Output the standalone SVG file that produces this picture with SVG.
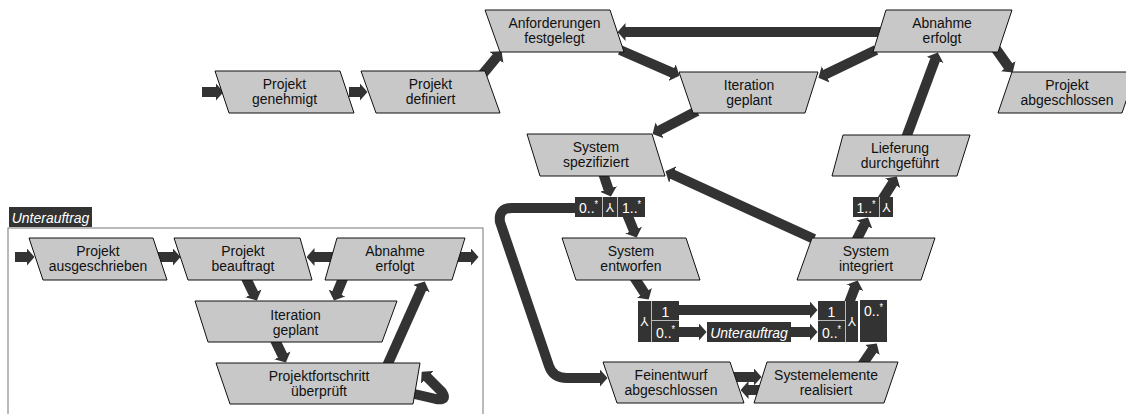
<svg xmlns="http://www.w3.org/2000/svg" width="1126" height="414" viewBox="0 0 1126 414">
<defs>
<style>
.n polygon { fill:#c8c8c8; stroke:#111; stroke-width:1; }
.n text { font-family:'Liberation Sans',Arial,sans-serif; font-size:15.5px; fill:#111; text-anchor:middle; }
.n text, .lb text:not(.y) { transform-box:fill-box; transform-origin:center; transform:scaleX(0.9); }
.c { fill:none; stroke:#333; stroke-width:10; stroke-linejoin:round; marker-end:url(#ah); }
.lb rect { fill:#333; }
.lb text { font-family:'Liberation Sans',Arial,sans-serif; font-size:15.5px; fill:#fff; text-anchor:middle; }
.lb .y { font-size:13px; }
.lb .it { font-style:italic; }
.sep { stroke:#bbb; stroke-width:1; fill:none; }
.st { font-size:10px; }
</style>
<marker id="ah" markerUnits="userSpaceOnUse" markerWidth="8" markerHeight="18" viewBox="0 0 8 18" refX="0.5" refY="9" orient="auto">
<path d="M0,0 L8,9 L0,18 Z" fill="#333"/>
</marker>
</defs>
<rect width="1126" height="414" fill="#fff"/>

<g id="frame-unterauftrag">
<rect x="8" y="228" width="475" height="200" fill="none" stroke="#777" stroke-width="1"/>
<g class="lb"><rect x="9" y="207" width="83" height="20"/><text class="it" x="50.5" y="223">Unterauftrag</text></g>
</g>

<g id="connectors">
<path class="c" d="M202 92 H216"/>
<path class="c" d="M349 92 H360"/>
<path class="c" d="M482 75 L496.8 57.1"/>
<path class="c" d="M882 32 H625"/>
<path class="c" d="M620 50 L672.6 72.8"/>
<path class="c" d="M876 50 L825.2 74.5"/>
<path class="c" d="M996 49 L1008.4 66.5"/>
<path class="c" d="M697 111 L659.2 130.6"/>
<path class="c" d="M814 239 L672.3 174.3"/>
<path class="c" d="M906 138 L935.2 59.5"/>
<path class="c" d="M603 173 L608.5 189.4"/>
<path class="c" d="M627 214 L633.8 230.6"/>
<path class="c" d="M577 208 H512 Q498 208 500 222 L549 366 Q553 378 567 378 H600"/>
<path class="c" d="M634 277 L644.6 293.3"/>
<path class="c" d="M677 310 H810"/>
<path class="c" d="M677 332 H699"/>
<path class="c" d="M789 332 H810"/>
<path class="c" d="M849 303 L855 287.4"/>
<path class="c" d="M862 365 L872.5 349.6"/>
<path class="c" d="M856 241 L864.6 224.2"/>
<path class="c" d="M882 200 L892.8 182.8"/>
<path class="c" d="M732 377 H754"/>
<path class="c" d="M761 390 H748"/>
<path class="c" d="M15 257 H27"/>
<path class="c" d="M157 257 H173"/>
<path class="c" d="M334 257 H314"/>
<path class="c" d="M456 257 H471"/>
<path class="c" d="M245 276 L253.6 293.8"/>
<path class="c" d="M344 276 L336.8 293.5"/>
<path class="c" d="M274 338 L282.6 355.8"/>
<path class="c" d="M386 368 L421.7 288.3"/>
<path class="c" d="M410 393 L436 399 Q448 401 442 392 L427 377"/>
</g>

<g id="projekt-genehmigt" class="n"><polygon points="215,71 340,71 354,113 229,113"/><text x="284.5" y="89.5">Projekt</text><text x="284.5" y="104.5">genehmigt</text></g>
<g id="projekt-definiert" class="n"><polygon points="361,71 485,71 500,113 376,113"/><text x="430.5" y="89.5">Projekt</text><text x="430.5" y="104.5">definiert</text></g>
<g id="anforderungen-festgelegt" class="n"><polygon points="485,10 610,10 624,52 500,52"/><text x="554.5" y="28.5">Anforderungen</text><text x="554.5" y="43.5">festgelegt</text></g>
<g id="iteration-geplant" class="n"><polygon points="679,72 818,72 805,113 693,113"/><text x="749" y="90.5">Iteration</text><text x="749" y="105.5">geplant</text></g>
<g id="abnahme-erfolgt" class="n"><polygon points="886,10 1012,10 998,52 873,52"/><text x="942" y="28.5">Abnahme</text><text x="942" y="43.5">erfolgt</text></g>
<g id="projekt-abgeschlossen" class="n"><polygon points="1012,72 1136,72 1122,113 998,113"/><text x="1067" y="90.5">Projekt</text><text x="1067" y="105.5">abgeschlossen</text></g>
<g id="system-spezifiziert" class="n"><polygon points="527,134 652,134 665,176 540,176"/><text x="596" y="152.5">System</text><text x="596" y="167.5">spezifiziert</text></g>
<g id="lieferung-durchgefuehrt" class="n"><polygon points="843,135 970,135 957,176 832,176"/><text x="900" y="153.5">Lieferung</text><text x="900" y="168.5">durchgeführt</text></g>
<g id="system-entworfen" class="n"><polygon points="562,238 686,238 700,280 576,280"/><text x="631" y="256.5">System</text><text x="631" y="271.5">entworfen</text></g>
<g id="system-integriert" class="n"><polygon points="812,238 935,238 921,280 797,280"/><text x="866" y="256.5">System</text><text x="866" y="271.5">integriert</text></g>
<g id="feinentwurf-abgeschlossen" class="n"><polygon points="603,362 730,362 744,403 617,403"/><text x="671" y="380.5">Feinentwurf</text><text x="671" y="395.5">abgeschlossen</text></g>
<g id="systemelemente-realisiert" class="n"><polygon points="767,362 898,362 884,403 754,403"/><text x="826" y="380.5">Systemelemente</text><text x="826" y="395.5">realisiert</text></g>

<g id="sub-projekt-ausgeschrieben" class="n"><polygon points="29,238 153,238 167,280 43,280"/><text x="98" y="256.5">Projekt</text><text x="98" y="271.5">ausgeschrieben</text></g>
<g id="sub-projekt-beauftragt" class="n"><polygon points="174,238 300,238 312,280 188,280"/><text x="243" y="256.5">Projekt</text><text x="243" y="271.5">beauftragt</text></g>
<g id="sub-abnahme-erfolgt" class="n"><polygon points="337,238 465,238 452,280 325,280"/><text x="395" y="256.5">Abnahme</text><text x="395" y="271.5">erfolgt</text></g>
<g id="sub-iteration-geplant" class="n"><polygon points="195,301 397,301 382,342 208,342"/><text x="295.5" y="320">Iteration</text><text x="295.5" y="335">geplant</text></g>
<g id="sub-projektfortschritt-ueberprueft" class="n"><polygon points="216,363 420,363 413,404 230,404"/><text x="319" y="381.5">Projektfortschritt</text><text x="319" y="396.5">überprüft</text></g>

<g id="merge-spezifiziert" class="lb">
<rect x="575" y="197" width="70" height="20"/>
<line class="sep" x1="602.5" y1="197" x2="602.5" y2="217"/><line class="sep" x1="617.5" y1="197" x2="617.5" y2="217"/>
<text x="588.5" y="213">0..<tspan class="st" dy="-5">*</tspan></text>
<text class="y" x="610" y="211.5" transform="rotate(180 610 207)">Y</text>
<text x="631.5" y="213">1..<tspan class="st" dy="-5">*</tspan></text>
</g>
<g id="split-lieferung" class="lb">
<rect x="853" y="197" width="40" height="20"/>
<line class="sep" x1="879.5" y1="197" x2="879.5" y2="217"/>
<text x="866" y="213">1..<tspan class="st" dy="-5">*</tspan></text>
<text class="y" x="886.5" y="211.5" transform="rotate(180 886.5 207)">Y</text>
</g>
<g id="merge-entworfen" class="lb">
<rect x="638" y="301" width="41" height="41"/>
<line class="sep" x1="651.5" y1="301" x2="651.5" y2="342"/><line class="sep" x1="652" y1="320.5" x2="679" y2="320.5"/>
<text class="y" x="644.5" y="326" transform="rotate(180 644.5 321.5)">Y</text>
<text x="665.5" y="317">1</text>
<text x="665.5" y="338">0..<tspan class="st" dy="-5">*</tspan></text>
</g>
<g id="label-unterauftrag" class="lb">
<rect x="707" y="322" width="84" height="20"/>
<text class="it" x="749" y="338">Unterauftrag</text>
</g>
<g id="merge-integriert" class="lb">
<rect x="818" y="301" width="40" height="41"/>
<line class="sep" x1="845.5" y1="301" x2="845.5" y2="342"/><line class="sep" x1="818" y1="320.5" x2="845" y2="320.5"/>
<text x="831.5" y="317">1</text>
<text x="831.5" y="338">0..<tspan class="st" dy="-5">*</tspan></text>
<text class="y" x="852" y="326" transform="rotate(180 852 321.5)">Y</text>
<rect x="860" y="300" width="27" height="42"/>
<text x="873.5" y="316">0..<tspan class="st" dy="-5">*</tspan></text>
</g>
</svg>
